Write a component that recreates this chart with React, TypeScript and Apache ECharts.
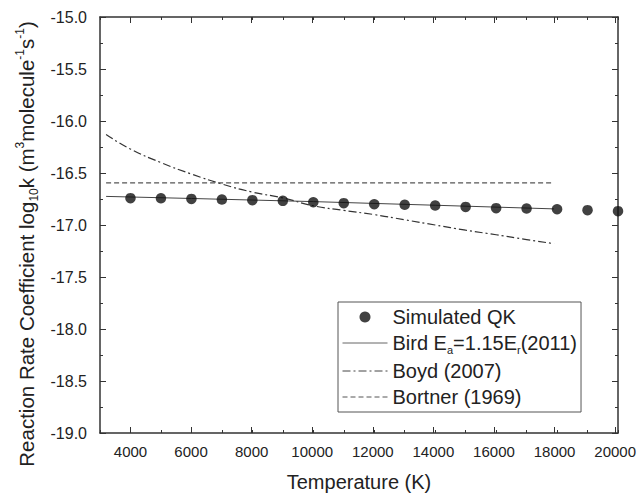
import React, { useEffect, useRef } from "react";
import * as echarts from "echarts";

const qkTemps = [4000, 5000, 6000, 7000, 8000, 9000, 10000, 11000, 12000, 13000, 14000, 15000, 16000, 17000, 18000, 19000, 20000];
const qkValues = [-16.742, -16.743, -16.749, -16.755, -16.761, -16.768, -16.781, -16.79, -16.8, -16.806, -16.813, -16.826, -16.838, -16.842, -16.848, -16.857, -16.867];

const birdTemps = [3200, 6000, 10000, 14000, 17900];
const birdValues = [-16.725, -16.745, -16.775, -16.81, -16.845];

const boydTemps = [3200, 4000, 5000, 6000, 7000, 8000, 9000, 10000, 11000, 12000, 13000, 14000, 15000, 16000, 17000, 17900];
const boydValues = [-16.13, -16.27, -16.4, -16.51, -16.606, -16.684, -16.74, -16.815, -16.86, -16.9, -16.95, -17.0, -17.05, -17.094, -17.14, -17.18];

const bortnerTemps = [3200, 17900];
const bortnerValues = [-16.595, -16.595];

const seriesNames = ["Simulated QK", "Bird Ea=1.15Er(2011)", "Boyd (2007)", "Bortner (1969)"];

const FONT = "Liberation Sans, Arial, sans-serif";
const AXIS_COLOR = "#333";

function pairs(xs: number[], ys: number[]) {
  return xs.map((x, i) => [x, ys[i]]);
}

export default function App() {
  const ref = useRef<HTMLDivElement>(null);
  useEffect(() => {
    if (!ref.current) return;
    const chart = echarts.init(ref.current, null, { renderer: "svg" });
    const plotLeft = 100;
    const plotWidth = 518;
    const xMin = 3000;
    const xMax = 20000;
    const pxPer = plotWidth / (xMax - xMin);
    const grid1Left = plotLeft + (4000 - xMin) * pxPer;

    const baseX = {
      type: "value",
      axisLine: { show: true, lineStyle: { color: AXIS_COLOR, width: 1.5 } },
      splitLine: { show: false },
    };

    chart.setOption({
      animation: false,
      backgroundColor: "#fff",
      textStyle: { fontFamily: FONT },
      grid: [
        { left: plotLeft, top: 17, width: plotWidth, height: 416 },
        { left: grid1Left, top: 17, width: plotLeft + plotWidth - grid1Left, height: 416 },
      ],
      xAxis: [
        {
          ...baseX,
          gridIndex: 0,
          position: "bottom",
          min: xMin,
          max: xMax,
          interval: 1000,
          axisTick: { show: true, inside: true, length: 3, lineStyle: { color: AXIS_COLOR } },
          axisLabel: { show: false },
          name: "Temperature (K)",
          nameLocation: "middle",
          nameGap: 39,
          nameTextStyle: { fontSize: 20, color: "#222", fontFamily: FONT },
        },
        {
          ...baseX,
          gridIndex: 0,
          position: "top",
          min: xMin,
          max: xMax,
          interval: 1000,
          axisTick: { show: true, inside: true, length: 3, lineStyle: { color: AXIS_COLOR } },
          axisLabel: { show: false },
        },
        {
          ...baseX,
          gridIndex: 1,
          position: "bottom",
          min: 4000,
          max: xMax,
          interval: 2000,
          axisLine: { show: false },
          axisTick: { show: true, inside: true, length: 6, lineStyle: { color: AXIS_COLOR } },
          axisLabel: {
            show: true,
            fontSize: 15,
            color: "#222",
            margin: 11,
            fontFamily: FONT,
            formatter: (v: number) => String(v),
          },
        },
        {
          ...baseX,
          gridIndex: 1,
          position: "top",
          min: 4000,
          max: xMax,
          interval: 2000,
          axisLine: { show: false },
          axisTick: { show: true, inside: true, length: 6, lineStyle: { color: AXIS_COLOR } },
          axisLabel: { show: false },
        },
      ],
      yAxis: [
        {
          type: "value",
          gridIndex: 0,
          position: "left",
          min: -19,
          max: -15,
          interval: 0.5,
          axisLine: { show: true, lineStyle: { color: AXIS_COLOR, width: 1.5 } },
          axisTick: { show: true, inside: true, length: 6, lineStyle: { color: AXIS_COLOR } },
          minorTick: { show: true, splitNumber: 2, length: 3, lineStyle: { color: AXIS_COLOR } },
          splitLine: { show: false },
          axisLabel: {
            fontSize: 16,
            color: "#222",
            margin: 13,
            fontFamily: FONT,
            formatter: (v: number) => v.toFixed(1),
          },
          name:
            "{n|Reaction Rate Coefficient log}{sub|10}{n|k (m}{sup|3}{n|molecule}{sup|-1}{n|s}{sup|-1}{n|)}",
          nameLocation: "middle",
          nameRotate: 90,
          nameGap: 60,
          nameTextStyle: {
            color: "#222",
            fontFamily: FONT,
            padding: [0, 38, 0, 0],
            rich: {
              n: { fontSize: 20.5, lineHeight: 26, fontFamily: FONT, color: "#222" },
              sub: { fontSize: 12, lineHeight: 12, verticalAlign: "bottom", fontFamily: FONT, color: "#222" },
              sup: { fontSize: 12, lineHeight: 12, verticalAlign: "top", fontFamily: FONT, color: "#222" },
            },
          },
        },
        {
          type: "value",
          gridIndex: 0,
          position: "right",
          min: -19,
          max: -15,
          interval: 0.5,
          axisLine: { show: true, lineStyle: { color: AXIS_COLOR, width: 1.5 } },
          axisTick: { show: true, inside: true, length: 6, lineStyle: { color: AXIS_COLOR } },
          minorTick: { show: true, splitNumber: 2, length: 3, lineStyle: { color: AXIS_COLOR } },
          splitLine: { show: false },
          axisLabel: { show: false },
        },
        {
          type: "value",
          gridIndex: 1,
          min: -19,
          max: -15,
          show: false,
        },
      ],
      legend: {
        orient: "vertical",
        left: 338,
        top: 302,
        padding: [5, 4, 5, 4],
        itemGap: 6,
        itemWidth: 45,
        itemHeight: 11,
        borderColor: "#555",
        borderWidth: 1,
        backgroundColor: "#fff",
        data: [
          { name: seriesNames[0] },
          { name: seriesNames[1], itemStyle: { opacity: 0 }, lineStyle: { width: 1, color: "#666" } },
          { name: seriesNames[2], itemStyle: { opacity: 0 }, lineStyle: { width: 1, color: "#444" } },
          { name: seriesNames[3], itemStyle: { opacity: 0 }, lineStyle: { width: 1, color: "#555" } },
        ],
        formatter: (name: string) => {
          if (name === seriesNames[1]) {
            return "{n|Bird E}{sub|a}{n|=1.15E}{sub|r}{n|(2011)}";
          }
          return "{n|" + name + "}";
        },
        textStyle: {
          fontFamily: FONT,
          rich: {
            n: { fontSize: 20, lineHeight: 24, fontFamily: FONT, color: "#222" },
            sub: { fontSize: 11, lineHeight: 11, verticalAlign: "bottom", fontFamily: FONT, color: "#222" },
          },
        },
      },
      series: [
        {
          name: seriesNames[0],
          type: "scatter",
          xAxisIndex: 0,
          yAxisIndex: 0,
          symbol: "circle",
          symbolSize: 10.5,
          itemStyle: { color: "#111" },
          data: pairs(qkTemps, qkValues),
          z: 5,
        },
        {
          name: seriesNames[1],
          type: "line",
          xAxisIndex: 0,
          yAxisIndex: 0,
          symbol: "none",
          showSymbol: false,
          lineStyle: { color: "#444", width: 1 },
          itemStyle: { color: "#444" },
          data: pairs(birdTemps, birdValues),
        },
        {
          name: seriesNames[2],
          type: "line",
          xAxisIndex: 0,
          yAxisIndex: 0,
          symbol: "none",
          showSymbol: false,
          smooth: true,
          lineStyle: { color: "#333", width: 1.2, type: [8, 3, 2, 3] },
          itemStyle: { color: "#333" },
          data: pairs(boydTemps, boydValues),
        },
        {
          name: seriesNames[3],
          type: "line",
          xAxisIndex: 0,
          yAxisIndex: 0,
          symbol: "none",
          showSymbol: false,
          lineStyle: { color: "#555", width: 1.2, type: [5, 3] },
          itemStyle: { color: "#555" },
          data: pairs(bortnerTemps, bortnerValues),
        },
      ],
    });
    return () => chart.dispose();
  }, []);
  return (
    <div
      ref={ref}
      style={{ position: "absolute", left: 0, top: 0, width: 639, height: 497, background: "#fff" }}
    />
  );
}
